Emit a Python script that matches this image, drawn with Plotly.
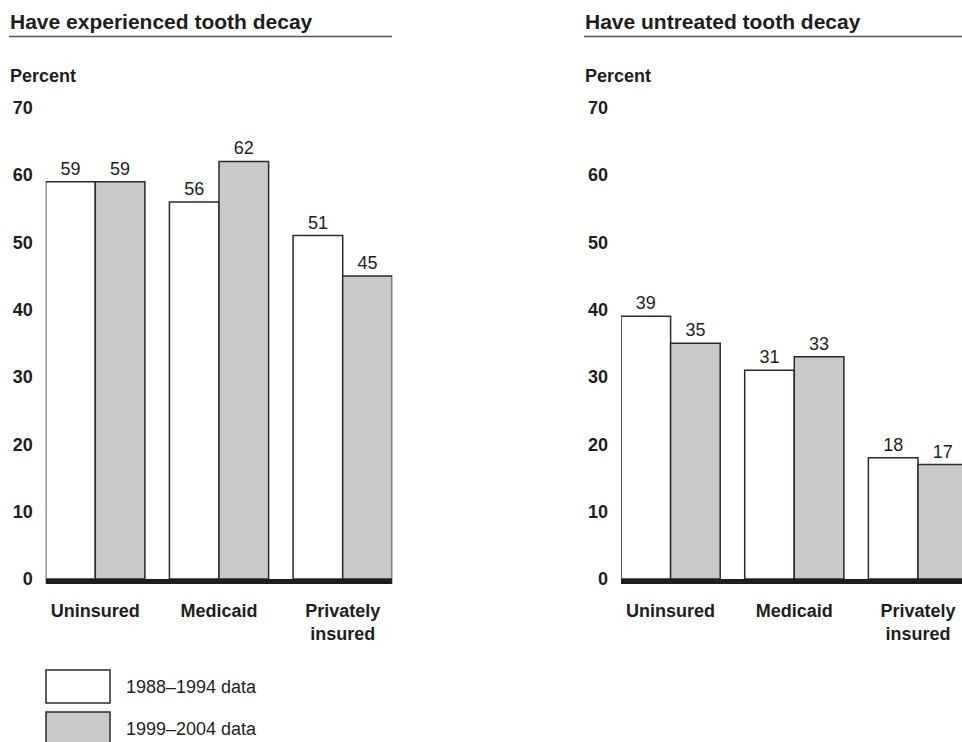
import plotly.graph_objects as go

# ---- data ----
categories = ["Uninsured", "Medicaid", "Privately<br>insured"]
series_names = ["1988–1994 data", "1999–2004 data"]
experienced_1988_1994 = [59, 56, 51]
experienced_1999_2004 = [59, 62, 45]
untreated_1988_1994 = [39, 31, 18]
untreated_1999_2004 = [35, 33, 17]
panel_titles = ["Have experienced tooth decay", "Have untreated tooth decay"]
y_ticks = [0, 10, 20, 30, 40, 50, 60, 70]
y_label = "Percent"

# ---- style ----
W, H = 962, 742
FONT = "Liberation Sans, Arial, Helvetica, sans-serif"
INK = "#1e1e1e"
OUTLINE = "#2a2a2a"
GRAY = "#c8c9cb"
WHITE = "#ffffff"
colors = [WHITE, GRAY]


def px(x):
    return x / W


def py(y):
    return 1 - y / H


xpos = list(range(len(categories)))

fig = go.Figure()

panels = [
    (experienced_1988_1994, experienced_1999_2004, "x", "y"),
    (untreated_1988_1994, untreated_1999_2004, "x2", "y2"),
]
for vals_a, vals_b, xa, ya in panels:
    for name, vals, col in zip(series_names, [vals_a, vals_b], colors):
        fig.add_trace(go.Bar(
            x=xpos, y=vals, name=name, xaxis=xa, yaxis=ya,
            marker=dict(color=col, line=dict(color=OUTLINE, width=1.5)),
            text=[str(v) for v in vals], textposition="outside",
            textfont=dict(family=FONT, size=18, color=INK),
            cliponaxis=False, showlegend=False,
        ))

ydom = [py(579), py(107.6)]
xaxis_common = dict(
    tickmode="array", tickvals=xpos, ticktext=["<b>%s</b>" % c for c in categories],
    ticks="", showgrid=False, zeroline=False, showline=False,
    tickfont=dict(family=FONT, size=18, color=INK),
    ticklabelstandoff=19, fixedrange=True, automargin=False,
)
yaxis_common = dict(
    range=[0, 70], tickmode="array", tickvals=y_ticks,
    ticktext=["<b>%d</b>" % t for t in y_ticks],
    ticks="", showgrid=False, zeroline=False, showline=False,
    tickfont=dict(family=FONT, size=18, color=INK),
    ticklabelstandoff=12, domain=ydom, fixedrange=True, automargin=False,
)

fig.update_layout(
    width=W, height=H, autosize=False,
    margin=dict(l=0, r=0, t=0, b=0, pad=0, autoexpand=False),
    paper_bgcolor="white", plot_bgcolor="white",
    barmode="group", bargap=0.198, bargroupgap=0,
    font=dict(family=FONT, color=INK),
    showlegend=False,
    xaxis=dict(domain=[px(45.7), px(392.3)], range=[-0.401, 2.401], anchor="y", **xaxis_common),
    yaxis=dict(anchor="x", **yaxis_common),
    xaxis2=dict(domain=[px(621), 1.0], range=[-0.401, 2.356], anchor="y2", **xaxis_common),
    yaxis2=dict(anchor="x2", **yaxis_common),
)

annotations = []
shapes = []
for title, x0, x1 in [(panel_titles[0], 10, 392), (panel_titles[1], 585, 962)]:
    annotations.append(dict(
        text="<b>%s</b>" % title, x=px(x0 - 2), y=py(22), xref="paper", yref="paper",
        xanchor="left", yanchor="middle", showarrow=False,
        font=dict(family=FONT, size=21, color=INK),
    ))
    annotations.append(dict(
        text="<b>%s</b>" % y_label, x=px(x0 - 2), y=py(76), xref="paper", yref="paper",
        xanchor="left", yanchor="middle", showarrow=False,
        font=dict(family=FONT, size=18, color=INK),
    ))
    shapes.append(dict(type="line", xref="paper", yref="paper",
                       x0=px(x0 - 1), x1=px(x1), y0=py(36.5), y1=py(36.5),
                       line=dict(color="#555555", width=1.5)))

# thick baseline along each x axis
for xa in ["x", "x2"]:
    shapes.append(dict(type="line", xref=xa + " domain", yref="paper",
                       x0=0, x1=1, y0=py(581.5), y1=py(581.5),
                       line=dict(color=INK, width=5)))

# legend (manual)
for i, (name, col) in enumerate(zip(series_names, colors)):
    top = 670 + i * 42
    shapes.append(dict(type="rect", xref="paper", yref="paper",
                       x0=px(46), x1=px(110), y0=py(top), y1=py(top + 33),
                       fillcolor=col, line=dict(color=OUTLINE, width=1.5)))
    annotations.append(dict(
        text=name, x=px(124), y=py(top + 17), xref="paper", yref="paper",
        xanchor="left", yanchor="middle", showarrow=False,
        font=dict(family=FONT, size=18, color=INK),
    ))

fig.update_layout(annotations=annotations, shapes=shapes)

fig.write_html(
    "out.html",
    config={"displayModeBar": False},
    post_script="document.body.style.margin='0';document.body.style.overflow='hidden';",
)
